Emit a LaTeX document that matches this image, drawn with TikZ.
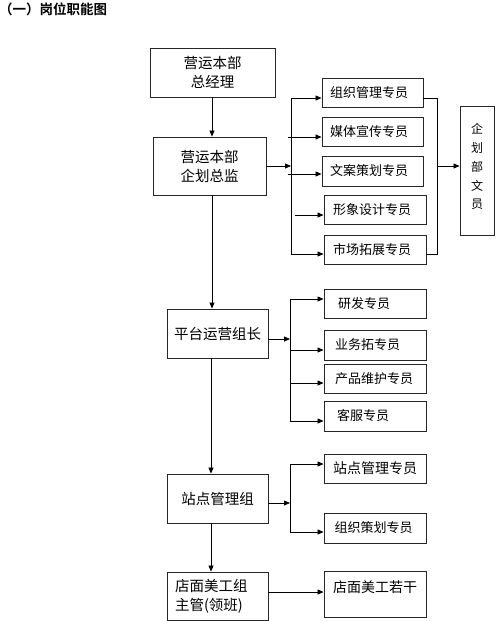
\documentclass[tikz,border=0pt]{standalone}
\usepackage{fontspec}
\setmainfont{Noto Sans CJK SC}
\newfontfamily\cjkbold{Noto Sans CJK SC Bold}
\usetikzlibrary{arrows.meta,calc}
\begin{document}
\begin{tikzpicture}[x=1pt,y=-1pt,
  box/.style={draw=black!85,line width=0.9pt,rectangle,inner sep=0pt,font=\fontsize{13}{16}\selectfont},
  bigbox/.style={box,font=\fontsize{14.5}{19}\selectfont,align=center},
  leftbox/.style={box,text width=#1,align=left},
  conn/.style={line width=0.8pt,draw=black},
  arr/.style={conn,-{Triangle[length=6pt,width=5pt]}}]
\useasboundingbox (0,0) rectangle (500,621);
% title
\node[anchor=west,inner sep=0pt,font=\cjkbold\fontsize{13.5}{16}\selectfont] (title) at (-1,9) {（一）岗位职能图};
% spine
\coordinate (spine) at (212,0);
\coordinate (spineb) at (211,0);
\coordinate (bus1) at (291,0);
\coordinate (bus1b) at (288,0);
\coordinate (bus1c) at (295,0);
\coordinate (busr) at (437,0);
\coordinate (bus2) at (290,0);
% main boxes
\node[bigbox,minimum width=125,minimum height=49] (b1) at (212.5,72.5) {营运本部\\总经理};
\node[bigbox,minimum width=113,minimum height=58] (b2) at (209.5,166) {营运本部\\企划总监};
\node[bigbox,minimum width=101,minimum height=49] (p) at (217.5,333.5) {平台运营组长};
\node[bigbox,minimum width=101,minimum height=49] (s) at (217.5,498.5) {站点管理组};
\node[box,font=\fontsize{14.5}{19}\selectfont,minimum width=101,minimum height=48,text width=85,align=left] (d) at (217.5,596) {店面美工组\\主管(领班)};
% group 1
\node[box,minimum width=101,minimum height=29] (z1) at (372.5,92.5) {\hspace*{-7pt}组织管理专员};
\node[box,minimum width=101,minimum height=29] (z2) at (372.5,131.5) {\hspace*{-7pt}媒体宣传专员};
\node[box,minimum width=101,minimum height=30] (z3) at (372.5,171) {\hspace*{-7pt}文案策划专员};
\node[box,minimum width=102,minimum height=29] (z4) at (375,209.5) {\hspace*{-6pt}形象设计专员};
\node[box,minimum width=102,minimum height=29] (z5) at (375,249.5) {\hspace*{-6pt}市场拓展专员};
\node[box,font=\fontsize{12}{19.5}\selectfont,align=center,minimum width=34,minimum height=129] (wy) at (477,170.5) {\raisebox{9pt}{\shortstack{企\\[5pt]划\\[5pt]部\\[5pt]文\\[5pt]员}}};
% group 2
\node[box,minimum width=102,minimum height=29,text width=80,align=left] (r1) at (375,303.5) {\hspace*{3pt}研发专员};
\node[box,minimum width=102,minimum height=30,text width=80,align=left] (r2) at (375,345) {业务拓专员};
\node[box,minimum width=102,minimum height=29,text width=80,align=left] (r3) at (375,378.5) {产品维护专员};
\node[box,minimum width=102,minimum height=30,text width=80,align=left] (r4) at (375,416) {\hspace*{2pt}客服专员};
% group 3
\node[box,font=\fontsize{14}{16}\selectfont,minimum width=102,minimum height=29] (t1) at (375,468.5) {站点管理专员};
\node[box,minimum width=102,minimum height=30] (t2) at (375,528) {\hspace*{-3pt}组织策划专员};
\node[box,font=\fontsize{14}{16}\selectfont,minimum width=102,minimum height=46,text height=11pt] (e) at (375,594) {\raisebox{7pt}{店面美工若干}};
% vertical spine connectors
\draw[arr] (b1.south -| spine) -- (b2.north -| spine);
\draw[arr] (b2.south -| spine) -- (p.north -| spine);
\draw[arr] (p.south -| spineb) -- (s.north -| spineb);
\draw[arr] (s.south -| spineb) -- (d.north -| spineb);
% group 1 connectors
\coordinate (y1) at (0,98);
\coordinate (y2) at (0,137);
\coordinate (y3) at (0,174);
\coordinate (y4) at (0,215);
\coordinate (y5) at (0,254);
\coordinate (ym) at (0,166);
\draw[arr] (b2.east |- ym) -- (bus1 |- ym);
\draw[conn] (bus1 |- y5) -- (bus1 |- y1);
\draw[arr] (bus1 |- y1) -- (z1.west |- y1);
\draw[arr] (bus1b |- y2) -- (z2.west |- y2);
\draw[arr] (bus1b |- y3) -- (z3.west |- y3);
\draw[arr] (bus1c |- y4) -- (z4.west |- y4);
\draw[arr] (bus1 |- y5) -- (z5.west |- y5);
\draw[conn] (z1.east |- y1) -- (busr |- y1) -- (busr |- y5) -- (z5.east |- y5);
\draw[arr] (busr |- ym) -- (wy.west |- ym);
% group 2 connectors
\coordinate (q0) at (0,339);
\coordinate (q1) at (0,299);
\coordinate (q2) at (0,350);
\coordinate (q3) at (0,383);
\coordinate (q4) at (0,421);
\draw[arr] (p.east |- q0) -- (bus2 |- q0);
\draw[conn] (bus2 |- q1) -- (bus2 |- q4);
\draw[arr] (bus2 |- q1) -- (r1.west |- q1);
\draw[arr] (bus2 |- q2) -- (r2.west |- q2);
\draw[arr] (bus2 |- q3) -- (r3.west |- q3);
\draw[arr] (bus2 |- q4) -- (r4.west |- q4);
% group 3 connectors
\coordinate (u0) at (0,503);
\coordinate (u1) at (0,464);
\coordinate (u2) at (0,532);
\draw[arr] (s.east |- u0) -- (bus2 |- u0);
\draw[conn] (bus2 |- u1) -- (bus2 |- u2);
\draw[arr] (bus2 |- u1) -- (t1.west |- u1);
\draw[arr] (bus2 |- u2) -- (t2.west |- u2);
% last
\coordinate (v0) at (0,592);
\draw[arr] (d.east |- v0) -- (e.west |- v0);
\end{tikzpicture}
\end{document}
